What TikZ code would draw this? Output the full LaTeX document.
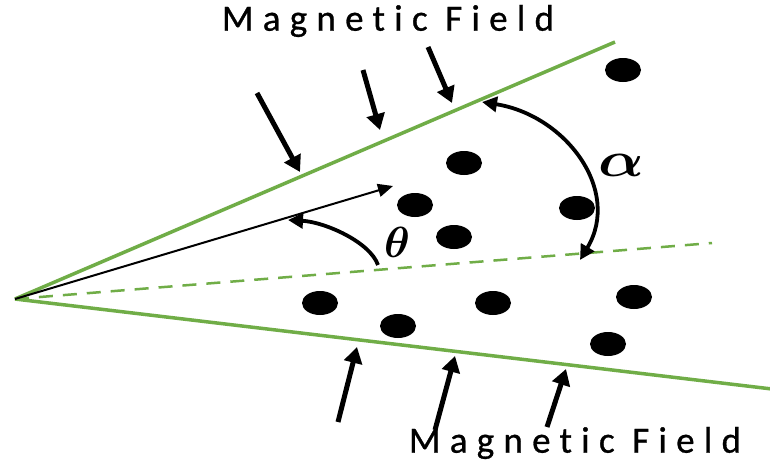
\documentclass[tikz,border=0pt]{standalone}
\usepackage{fontspec}
\usepackage{amsmath,bm}
\setmainfont{Carlito}
\newfontfamily\lblfont[LetterSpace=25,Ligatures=NoCommon,FakeBold=0.8]{Carlito}
\usetikzlibrary{arrows.meta,shapes.geometric}
\definecolor{fgreen}{RGB}{112,173,71}
\begin{document}
\begin{tikzpicture}[x=1pt,y=-1pt,
  field/.style={line width=5pt,-{Triangle[width=18pt,length=16pt]}},
  gline/.style={fgreen,line width=3.5pt},
  arcarrow/.style={line width=3.8pt},
  dot/.style={ellipse,fill=black,minimum width=36pt,minimum height=24pt,inner sep=0pt},
  lbl/.style={font=\lblfont\fontsize{37}{44}\selectfont}]
\useasboundingbox[fill=white] (0,0) rectangle (770,461);
% main lines
\coordinate (O) at (15,299);
\coordinate (U) at (615,42);
\coordinate (L) at (772,389);
\coordinate (D) at (712,243);
\coordinate (V) at (393,186);
\draw[gline] (O) -- (U);
\draw[gline] (O) -- (L);
\draw[fgreen,line width=2.5pt,dash pattern=on 14pt off 10pt] (O) -- (D);
\draw[line width=2pt,-{Triangle[width=13pt,length=15pt]}] (O) -- (V);
% dots
\node[dot] (d1) at (623,70) {};
\node[dot] (d2) at (464,163) {};
\node[dot] (d3) at (415,205) {};
\node[dot] (d4) at (454,237) {};
\node[dot] (d5) at (577,208) {};
\node[dot] (d6) at (320,303) {};
\node[dot] (d7) at (398,326) {};
\node[dot] (d8) at (493,303) {};
\node[dot] (d9) at (634,297) {};
\node[dot] (d10) at (608,344) {};
% field arrows top
\coordinate (a1s) at (257,93);  \coordinate (a1e) at (300,172);
\coordinate (a2s) at (363,70);  \coordinate (a2e) at (380,130);
\coordinate (a3s) at (428,47);  \coordinate (a3e) at (452,103);
\draw[field] (a1s) -- (a1e);
\draw[field] (a2s) -- (a2e);
\draw[field] (a3s) -- (a3e);
% field arrows bottom
\coordinate (b1s) at (338,422); \coordinate (b1e) at (357,347);
\coordinate (b2s) at (435,430); \coordinate (b2e) at (455,356);
\coordinate (b3s) at (547,427); \coordinate (b3e) at (566,369);
\draw[field] (b1s) -- (b1e);
\draw[field] (b2s) -- (b2e);
\draw[field] (b3s) -- (b3e);
% theta arc
\coordinate (t1) at (378,265);
\coordinate (t2) at (288,220);
\draw[arcarrow,-{Triangle[width=15pt,length=15pt]}] (t1) .. controls (370,242) and (325,222) .. (t2);
% alpha arc
\coordinate (al1) at (482,102);
\coordinate (al2) at (580,260);
\draw[arcarrow,{Triangle[width=15pt,length=15pt]}-{Triangle[width=15pt,length=15pt]}] (al1) .. controls (565,115) and (622,190) .. (al2);
% labels
\node[lbl] (mt) at (388,21) {Magnetic Field};
\node[lbl] (mb) at (575,443) {Magnetic Field};
\node[scale=2.1] (th) at (397,242) {\fontsize{20}{24}\selectfont$\bm{\theta}$};
\node[xscale=2.9,yscale=2.4] (al) at (621,165) {\fontsize{20}{24}\selectfont$\bm{\alpha}$};
\end{tikzpicture}
\end{document}
